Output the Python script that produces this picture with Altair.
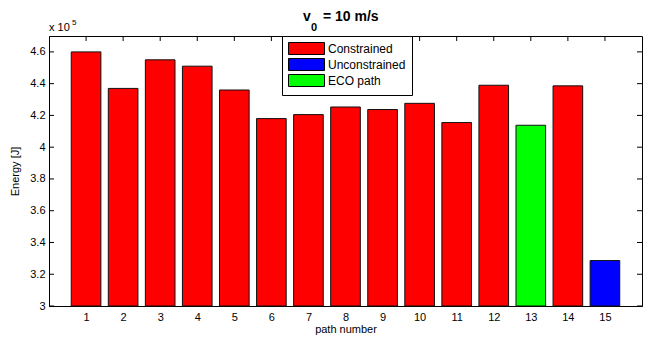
import altair as alt
import pandas as pd

# Data (energy in units of 1e5 J)
paths = list(range(1, 16))
energy = [4.60, 4.37, 4.55, 4.51, 4.36, 4.18, 4.205, 4.253, 4.237, 4.276, 4.155, 4.39, 4.138, 4.386, 3.286]
kinds = ["Constrained"] * 12 + ["ECO path", "Constrained", "Unconstrained"]
legend_order = ["Constrained", "Unconstrained", "ECO path"]
legend_colors = ["#ff0000", "#0000ff", "#00ff00"]
x_ticks = list(range(1, 16))
y_ticks = [3.0, 3.2, 3.4, 3.6, 3.8, 4.0, 4.2, 4.4, 4.6]

FONT = "Liberation Sans"
W, H = 593, 270

df = pd.DataFrame({"path": paths, "energy": energy, "kind": kinds})
df_y = pd.DataFrame({"v": y_ticks})
df_x = pd.DataFrame({"p": x_ticks})
one = pd.DataFrame({"a": [0]})

xscale = alt.Scale(domain=[0, 16], nice=False, zero=False)
yscale = alt.Scale(domain=[3, 4.7], nice=False, zero=False)

xaxis = alt.Axis(values=x_ticks, title="path number", tickSize=0, labelPadding=5,
                 domainColor="black", labelColor="black", titleColor="black",
                 labelFont=FONT, titleFont=FONT, labelFontSize=11, titleFontSize=11,
                 titleFontWeight="normal", titlePadding=1, grid=False, labelFlush=False)
yaxis = alt.Axis(values=y_ticks, format="~g", title="Energy [J]", tickSize=0, labelPadding=4,
                 domainColor="black", labelColor="black", titleColor="black",
                 labelFont=FONT, titleFont=FONT, labelFontSize=11, titleFontSize=11,
                 titleFontWeight="normal", titlePadding=9, grid=False, labelFlush=False)

def X(field):
    return alt.X(field, type="quantitative", scale=xscale, axis=xaxis, title="path number")

def Y(field):
    return alt.Y(field, type="quantitative", scale=yscale, axis=yaxis, title="Energy [J]")

# inward ticks (drawn under the bars)
left_ticks = alt.Chart(df_y).mark_rule(color="black", strokeWidth=1).encode(
    y=Y("v"), x=alt.value(0), x2=alt.value(5))
right_ticks = alt.Chart(df_y).mark_rule(color="black", strokeWidth=1).encode(
    y=Y("v"), x=alt.value(W - 5), x2=alt.value(W))
top_ticks = alt.Chart(df_x).mark_rule(color="black", strokeWidth=1).encode(
    x=X("p"), y=alt.value(0), y2=alt.value(5))
bottom_ticks = alt.Chart(df_x).mark_rule(color="black", strokeWidth=1).encode(
    x=X("p"), y=alt.value(H - 5), y2=alt.value(H))

bars = alt.Chart(df).transform_calculate(
    x0="datum.path - 0.4", x1="datum.path + 0.4"
).mark_bar(stroke="#111111", strokeWidth=1, opacity=1).encode(
    x=X("x0"),
    x2="x1:Q",
    y=Y("energy"),
    y2=alt.datum(3),
    fill=alt.Fill("kind:N", scale=alt.Scale(domain=legend_order, range=legend_colors),
                  legend=alt.Legend(title=None, orient="none", legendX=233, legendY=0,
                                    symbolType="M-1,-1H5V1H-1Z", symbolSize=144,
                                    symbolStrokeColor="black", symbolStrokeWidth=1,
                                    strokeColor="black", fillColor="white", padding=6,
                                    labelFont=FONT, labelFontSize=12, labelColor="black",
                                    rowPadding=-1, labelOffset=27, symbolOpacity=1)),
)

exp_base = alt.Chart(one).mark_text(font=FONT, fontSize=11, align="left", baseline="alphabetic",
                                    color="black").encode(x=alt.value(0), y=alt.value(-5), text=alt.value("x 10"))
exp_sup = alt.Chart(one).mark_text(font=FONT, fontSize=8, align="left", baseline="alphabetic",
                                   color="black").encode(x=alt.value(23), y=alt.value(-11), text=alt.value("5"))

t_v = alt.Chart(one).mark_text(font=FONT, fontSize=14, fontWeight="bold", align="left",
                               baseline="alphabetic", color="black").encode(
    x=alt.value(254), y=alt.value(-15), text=alt.value("v"))
t_sub = alt.Chart(one).mark_text(font=FONT, fontSize=11, fontWeight="bold", align="left",
                                 baseline="alphabetic", color="black").encode(
    x=alt.value(262), y=alt.value(-5), text=alt.value("0"))
t_rest = alt.Chart(one).mark_text(font=FONT, fontSize=14, fontWeight="bold", align="left",
                                  baseline="alphabetic", color="black").encode(
    x=alt.value(274), y=alt.value(-15), text=alt.value("= 10 m/s"))

chart = alt.layer(
    left_ticks, right_ticks, top_ticks, bottom_ticks, bars,
    exp_base, exp_sup, t_v, t_sub, t_rest
).properties(
    width=W, height=H,
    autosize=alt.AutoSizeParams(type="none"),
    padding={"left": 41, "top": 28, "right": 1, "bottom": 29},
    background="white",
).configure_view(stroke="black", strokeWidth=1)

chart.save("out.html", embed_options={"renderer": "svg", "actions": False})
